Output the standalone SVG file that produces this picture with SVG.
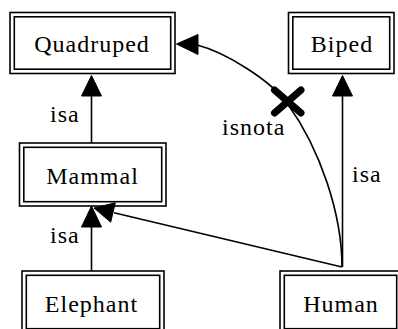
<svg xmlns="http://www.w3.org/2000/svg" width="398" height="329" viewBox="0 0 398 329">
  <style>
    .box { fill: none; stroke: #000; stroke-width: 1.6; }
    text { font-family: 'Liberation Serif', 'DejaVu Serif', serif; font-size: 24px; letter-spacing: 1px; fill: #000; }
    .mid { text-anchor: middle; }
    .edge { fill: none; stroke: #000; stroke-width: 1.6; }
    .head { fill: #000; stroke: #000; stroke-width: 1; }
  </style>
  <rect width="398" height="329" fill="#fff"/>

  <!-- nodes: double-bordered boxes -->
  <g id="Quadruped">
    <rect class="box" x="10" y="12.5" width="165" height="61"/>
    <rect class="box" x="14.3" y="16.8" width="156.4" height="52.4"/>
    <text class="mid" x="92" y="52">Quadruped</text>
  </g>
  <g id="Biped">
    <rect class="box" x="288.5" y="12.5" width="105.5" height="61"/>
    <rect class="box" x="292.8" y="16.8" width="96.9" height="52.4"/>
    <text class="mid" x="342" y="52">Biped</text>
  </g>
  <g id="Mammal">
    <rect class="box" x="19.5" y="143" width="146.5" height="63"/>
    <rect class="box" x="23.8" y="147.3" width="137.9" height="54.4"/>
    <text class="mid" x="92.5" y="184">Mammal</text>
  </g>
  <g id="Elephant">
    <rect class="box" x="22" y="271" width="142" height="62"/>
    <rect class="box" x="26.3" y="275.3" width="133.4" height="53.4"/>
    <text class="mid" x="91.5" y="312">Elephant</text>
  </g>
  <g id="Human">
    <rect class="box" x="280" y="271" width="121" height="62"/>
    <rect class="box" x="284.3" y="275.3" width="112.4" height="53.4"/>
    <text class="mid" x="341" y="312">Human</text>
  </g>

  <!-- connectors -->
  <g id="edges">
    <!-- Mammal isa Quadruped -->
    <line class="edge" x1="91.5" y1="143" x2="91.5" y2="95"/>
    <polygon class="head" points="91.5,75.5 81.5,96 101.5,96"/>
    <text x="50" y="122">isa</text>

    <!-- Elephant isa Mammal -->
    <line class="edge" x1="91.5" y1="271" x2="91.5" y2="226"/>
    <polygon class="head" points="91.5,206 81.5,227 101.5,227"/>
    <text x="50" y="243">isa</text>

    <!-- Human isa Mammal -->
    <line class="edge" x1="342" y1="267" x2="114" y2="212.7"/>
    <polygon class="head" points="94,208 110.7,222.2 115.3,202.8"/>

    <!-- Human isa Biped -->
    <line class="edge" x1="342.5" y1="267" x2="342.5" y2="95"/>
    <polygon class="head" points="342.5,75.5 332.5,96 352.5,96"/>
    <text x="352" y="182">isa</text>

    <!-- Human isnota Quadruped, crossed out -->
    <path class="edge" d="M342,267 C342,215 321,150 287,103 C270,80 225,52 197,45"/>
    <polygon class="head" points="176.5,44 198,34.5 198,54.5"/>
    <g stroke="#000" stroke-width="7" stroke-linecap="round">
      <line x1="274.5" y1="90" x2="301" y2="113"/>
      <line x1="301" y1="90" x2="274.5" y2="113"/>
    </g>
    <text x="222" y="135">isnota</text>
  </g>
</svg>
